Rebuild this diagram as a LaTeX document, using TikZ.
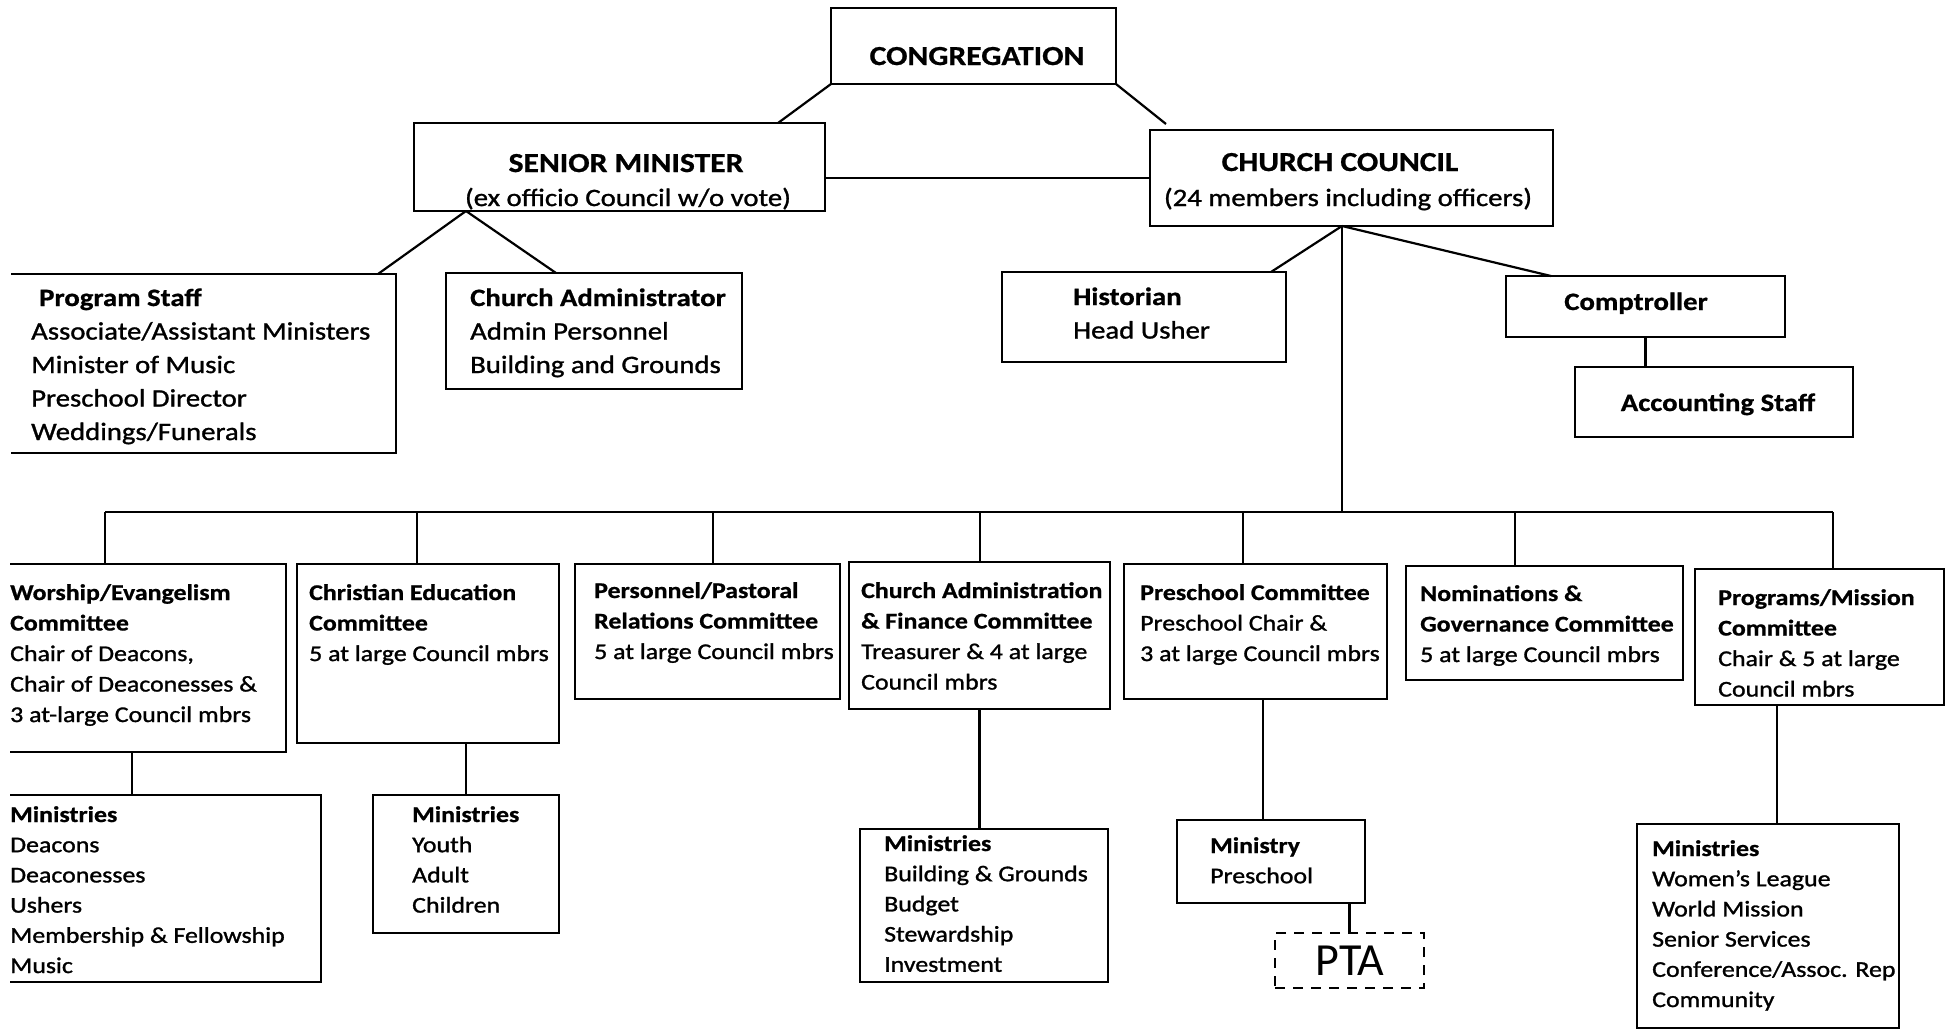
\documentclass[tikz,border=0pt]{standalone}
\usepackage{fontspec}
\setmainfont{Carlito}[FakeStretch=1.15, UprightFeatures={FakeBold=1.2}, BoldFeatures={FakeBold=0.8}]
\newfontfamily\ptafont{Carlito}
\newcommand\fhead{\fontsize{27.5}{33}\selectfont\bfseries}
\newcommand\fmid{\fontsize{25}{33.5}\selectfont}
\newcommand\fcom{\fontsize{22.5}{30.5}\selectfont}
\newcommand\fmin{\fontsize{22.5}{30.2}\selectfont}
\newcommand\orgbox[6][]{\node[box,#1,anchor=north west,minimum width={(#5-#3)*1pt},minimum height={(#6-#4)*1pt}] (#2) at (#3,#4) {};}
\begin{document}
\begin{tikzpicture}[x=1pt,y=-1pt,
  box/.style={draw, line width=2.6pt, inner sep=0pt, outer sep=0pt},
  boxline/.style={line width=2.6pt},
  ptabox/.style={dash pattern=on 10pt off 8pt, line width=2.6pt},
  conn/.style={line width=2.2pt},
  txt/.style={anchor=base west, align=left, inner sep=0pt},
  ctxt/.style={anchor=base, inner sep=0pt}]
\fill[white] (0,0) rectangle (1946,1031);
\useasboundingbox (0,0) rectangle (1946,1031);

% ---------- boxes ----------
\orgbox{cong}{831}{8}{1116}{84}
\orgbox{sm}{414}{123}{825}{211}
\orgbox{council}{1150}{130}{1553}{226}
\orgbox[draw=none]{ps}{11}{274}{396}{453}
\draw[boxline] (ps.north west) -- (ps.north east) -- (ps.south east) -- (ps.south west);
\orgbox{ca}{446}{273}{742}{389}
\orgbox{hist}{1002}{272}{1286}{362}
\orgbox{comp}{1506}{276}{1785}{337}
\orgbox{acc}{1575}{367}{1853}{437}

\orgbox[draw=none]{c1}{10}{564}{286}{752}
\draw[boxline] (c1.north west) -- (c1.north east) -- (c1.south east) -- (c1.south west);
\orgbox{c2}{297}{564}{559}{743}
\orgbox{c3}{575}{564}{840}{699}
\orgbox{c4}{849}{562}{1110}{709}
\orgbox{c5}{1124}{564}{1387}{699}
\orgbox{c6}{1406}{566}{1683}{680}
\orgbox{c7}{1695}{569}{1944}{705}

\orgbox[draw=none]{wm}{10}{795}{321}{982}
\draw[boxline] (wm.north west) -- (wm.north east) -- (wm.south east) -- (wm.south west);
\orgbox{cem}{373}{795}{559}{933}
\orgbox{cam}{860}{829}{1108}{982}
\orgbox{mp}{1177}{820}{1365}{903}
\orgbox[ptabox]{pta}{1275}{933}{1424}{988}
\orgbox{pm}{1637}{824}{1899}{1028}

% ---------- texts (multi-line nodes anchored at the baseline of their last line) ----------
\node[ctxt,font=\fhead] (congt) at (977,65) {CONGREGATION};
\node[ctxt,font=\fhead] (smt1) at (626,172) {SENIOR MINISTER};
\node[ctxt,font=\fmid] (smt2) at (628,206) {(ex officio Council w/o vote)};
\node[ctxt,font=\fhead] (cct1) at (1340,171) {CHURCH COUNCIL};
\node[ctxt,font=\fmid] (cct2) at (1348,206) {(24 members including officers)};

\node[txt,font=\fmid] (pst) at (31,440) {\hspace*{8pt}\textbf{Program Staff}\\Associate/Assistant Ministers\\Minister of Music\\Preschool Director\\Weddings/Funerals};
\node[txt,font=\fmid] (cat) at (470,373) {\textbf{Church Administrator}\\Admin Personnel\\Building and Grounds};
\node[txt,font=\fmid] (histt) at (1073,338.5) {\textbf{Historian}\\Head Usher};
\node[ctxt,font=\fmid\bfseries] (compt) at (1636,310) {Comptroller};
\node[ctxt,font=\fmid\bfseries] (acct) at (1718,411) {Accounting Staff};

\node[txt,font=\fcom] (c1t) at (10,722) {\textbf{Worship/Evangelism}\\\textbf{Committee}\\Chair of Deacons,\\Chair of Deaconesses \&\\3 at-large Council mbrs};
\node[txt,font=\fcom] (c2t) at (309,661) {\textbf{Christian Education}\\\textbf{Committee}\\5 at large Council mbrs};
\node[txt,font=\fcom] (c3t) at (594,659) {\textbf{Personnel/Pastoral}\\\textbf{Relations Committee}\\5 at large Council mbrs};
\node[txt,font=\fcom] (c4t) at (861,689.5) {\textbf{Church Administration}\\\textbf{\& Finance Committee}\\Treasurer \& 4 at large\\Council mbrs};
\node[txt,font=\fcom] (c5t) at (1140,661) {\textbf{Preschool Committee}\\Preschool Chair \&\\3 at large Council mbrs};
\node[txt,font=\fcom] (c6t) at (1420,662) {\textbf{Nominations \&}\\\textbf{Governance Committee}\\5 at large Council mbrs};
\node[txt,font=\fcom] (c7t) at (1718,696.5) {\textbf{Programs/Mission}\\\textbf{Committee}\\Chair \& 5 at large\\Council mbrs};

\node[txt,font=\fmin] (wmt) at (10,973) {\textbf{Ministries}\\Deacons\\Deaconesses\\Ushers\\Membership \& Fellowship\\Music};
\node[txt,font=\fmin] (cemt) at (412,912.6) {\textbf{Ministries}\\Youth\\Adult\\Children};
\node[txt,font=\fmin] (camt) at (884,971.8) {\textbf{Ministries}\\Building \& Grounds\\Budget\\Stewardship\\Investment};
\node[txt,font=\fmin] (mpt) at (1210,883.2) {\textbf{Ministry}\\Preschool};
\node[ctxt,font=\ptafont\fontsize{46}{46}\selectfont] (ptat) at (1350,975) {PTA};
\node[txt,font=\fmin] (pmt) at (1652,1007) {\textbf{Ministries}\\Women's League\\World Mission\\Senior Services\\Conference/Assoc. Rep\\Community};

% ---------- connectors ----------
\draw[conn] (cong.south west) -- ([xshift=-47pt]sm.north east);
\draw[conn] (cong.south east) -- ([xshift=16pt,yshift=6pt]council.north west);
\draw[conn] ([yshift=-11pt]sm.east) -- ([yshift=-11pt]sm.east -| council.west);

\coordinate (smb) at ([xshift=-153.5pt]sm.south);
\draw[conn] (smb) -- ([xshift=-18pt]ps.north east);
\draw[conn] (smb) -- ([xshift=110pt]ca.north west);

\coordinate (ccb) at ([xshift=-9.5pt]council.south);
\draw[conn] (ccb) -- ([xshift=-15pt]hist.north east);
\draw[conn] (ccb) -- ([xshift=45pt]comp.north west);
\draw[conn] (comp.south) -- (comp.south |- acc.north);

\coordinate (d1) at (105,512);
\coordinate (d2) at (417,512);
\coordinate (d3) at (713,512);
\coordinate (d4) at (980,512);
\coordinate (d5) at (1243,512);
\coordinate (d6) at (1515,512);
\coordinate (d7) at (1833,512);
\draw[conn] (ccb) -- (ccb |- d1);
\draw[conn] (d1) -- (d7);
\draw[conn] (d1) -- (d1 |- c1.north);
\draw[conn] (d2) -- (d2 |- c2.north);
\draw[conn] (d3) -- (d3 |- c3.north);
\draw[conn] (d4) -- (d4 |- c4.north);
\draw[conn] (d5) -- (d5 |- c5.north);
\draw[conn] (d6) -- (d6 |- c6.north);
\draw[conn] (d7) -- (d7 |- c7.north);

\coordinate (w1) at ([xshift=122pt]c1.south west);
\draw[conn] (w1) -- (w1 |- wm.north);
\draw[conn] (cem.north) -- (cem.north |- c2.south);
\draw[conn] (c4.south) -- (c4.south |- cam.north);
\coordinate (p1) at ([xshift=-8pt]mp.north);
\draw[conn] (p1) -- (p1 |- c5.south);
\draw[conn] (pta.north) -- (pta.north |- mp.south);
\coordinate (p2) at ([xshift=9pt]pm.north);
\draw[conn] (p2) -- (p2 |- c7.south);
\end{tikzpicture}
\end{document}
